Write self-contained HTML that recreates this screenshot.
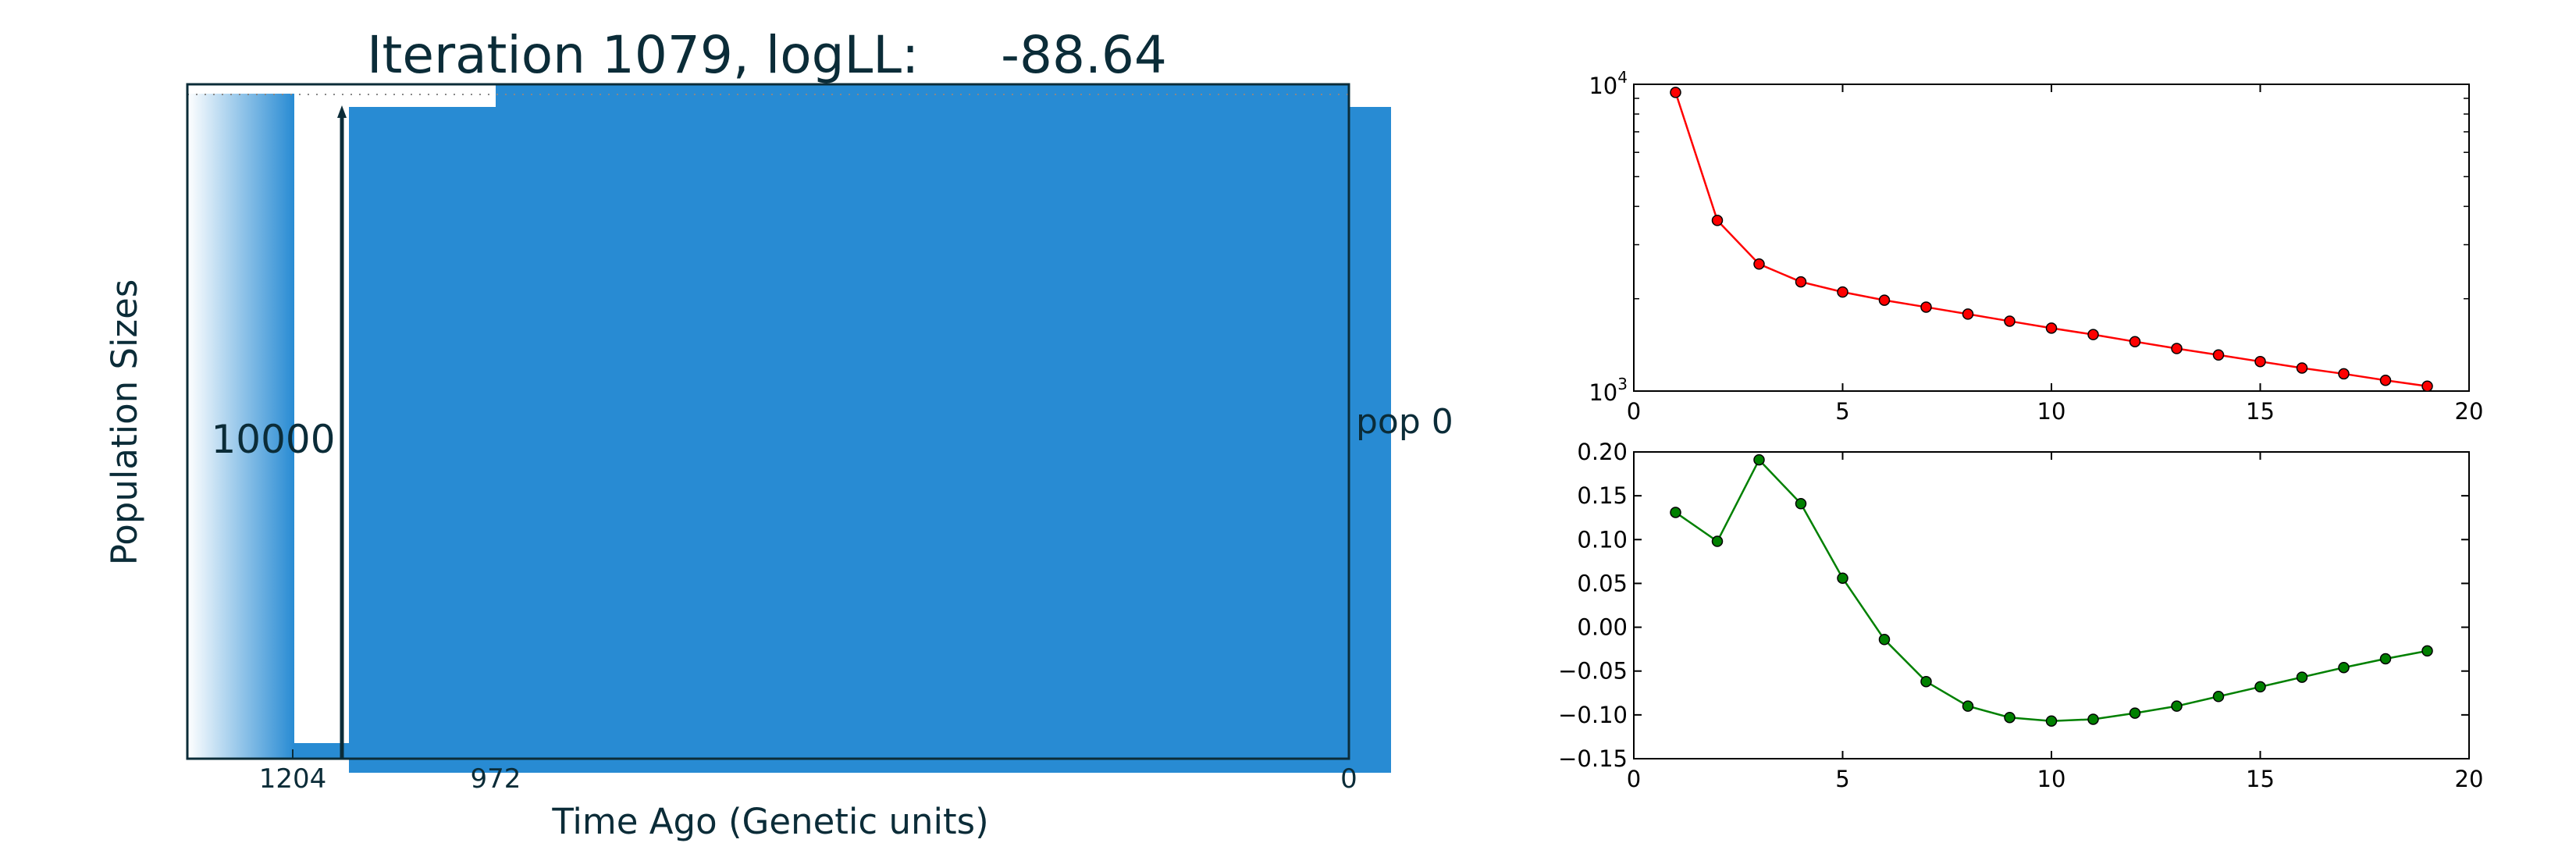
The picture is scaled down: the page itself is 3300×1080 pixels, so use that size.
<!DOCTYPE html>
<html><head><meta charset="utf-8"><style>
html,body{margin:0;padding:0;background:#fff;}
svg{display:block;font-family:"DejaVu Sans","Liberation Sans",sans-serif;}
</style></head><body>
<svg id="fig" width="3300" height="1080" viewBox="0 0 3300 1080" xmlns="http://www.w3.org/2000/svg">
<defs>
<linearGradient id="grad" x1="0" x2="1" y1="0" y2="0">
<stop offset="0" stop-color="#ffffff"/><stop offset="1" stop-color="#288bd3"/>
</linearGradient>
</defs>
<g>
<rect x="240" y="120" width="137" height="852" fill="url(#grad)"/>
<rect x="377" y="952" width="70" height="20" fill="#288bd3"/>
<rect x="447" y="137" width="1335" height="853" fill="#288bd3"/>
<rect x="635" y="108" width="1093" height="30" fill="#288bd3"/>
<line x1="240" y1="121" x2="1728" y2="121" stroke="#888" stroke-width="2" stroke-dasharray="2,9"/>
<line x1="438" y1="972" x2="438" y2="146" stroke="#0b2c38" stroke-width="5"/>
<polygon points="438,135 432,151 444,151" fill="#0b2c38"/>
<rect x="240" y="108" width="1488" height="864" fill="none" stroke="#0b2c38" stroke-width="3"/>
<line x1="375" y1="972" x2="375" y2="960" stroke="#0b2c38" stroke-width="2"/>
<text x="350" y="580" font-size="50" text-anchor="middle" fill="#0b2c38">10000</text>
<text x="1737" y="555" font-size="44" fill="#0b2c38">pop 0</text>
<text x="470" y="93" font-size="66" fill="#0b2c38">Iteration 1079, logLL:&#160;&#160;&#160;&#160;&#160;-88.64</text>
<text x="375" y="1009" font-size="34" text-anchor="middle" fill="#0b2c38">1204</text>
<text x="635" y="1009" font-size="34" text-anchor="middle" fill="#0b2c38">972</text>
<text x="1728" y="1009" font-size="34" text-anchor="middle" fill="#0b2c38">0</text>
<text x="987" y="1068" font-size="45" text-anchor="middle" fill="#0b2c38">Time Ago (Genetic units)</text>
<text x="0" y="0" font-size="45" text-anchor="middle" fill="#0b2c38" transform="translate(175,541) rotate(-90)">Population Sizes</text>
</g>
<g id="top"></g>
<g id="bot"></g>
</svg>
<script>
const xs = [1,2,3,4,5,6,7,8,9,10,11,12,13,14,15,16,17,18,19];
const sizes = [9410,3600,2594,2270,2103,1978,1878,1782,1690,1604,1528,1449,1376,1311,1248,1189,1138,1084,1037];
const growth = [0.131,0.098,0.191,0.141,0.056,-0.014,-0.062,-0.090,-0.103,-0.107,-0.105,-0.098,-0.090,-0.079,-0.068,-0.057,-0.046,-0.036,-0.027];
const xTicks = [0,5,10,15,20];
const growthTicks = [0.20,0.15,0.10,0.05,0.00,-0.05,-0.10,-0.15];
const NS="http://www.w3.org/2000/svg";
const L=2093,R=3163;
function X(v){return L+(v-0)/(20-0)*(R-L);}
function mk(tag,attrs,parent){const e=document.createElementNS(NS,tag);for(const k in attrs)e.setAttribute(k,attrs[k]);parent.appendChild(e);return e;}
function axes(g,T,B,name){
  const r=mk('rect',{x:L,y:T,width:R-L,height:B-T,fill:'none',stroke:'#000','stroke-width':2},g);
  
  
  xTicks.forEach(t=>{
    mk('line',{x1:X(t),x2:X(t),y1:B,y2:B-10,stroke:'#000','stroke-width':2},g);
    mk('line',{x1:X(t),x2:X(t),y1:T,y2:T+10,stroke:'#000','stroke-width':2},g);
    const tx=mk('text',{x:X(t),y:B+36,'font-size':29,'text-anchor':'middle',fill:'#000'},g);
    tx.textContent=t;
    
    
  });
}
function series(g,pts,color,name){
  const pl=mk('polyline',{points:pts.map(p=>p.join(',')).join(' '),fill:'none',stroke:color,'stroke-width':2.5},g);
  
  
  pts.forEach(p=>{
    const c=mk('circle',{cx:p[0],cy:p[1],r:6.5,fill:color,stroke:'#000','stroke-width':1.5},g);
    
    
  });
}
(function(){
  const g=document.getElementById('top');const T=108,B=501;
  const Y=v=>B-(Math.log10(v)-3)/(1)*(B-T);
  axes(g,T,B,'size');
  for(let m=2;m<=9;m++){const y=Y(m*1000);
    mk('line',{x1:L,x2:L+7,y1:y,y2:y,stroke:'#000','stroke-width':1.5},g);
    mk('line',{x1:R,x2:R-7,y1:y,y2:y,stroke:'#000','stroke-width':1.5},g);}
  [[3,B],[4,T]].forEach(([e,y])=>{
    const t=mk('text',{x:L-8,y:y+12,'font-size':29,'text-anchor':'end',fill:'#000'},g);
    t.textContent='10';
    
    
    const s=mk('tspan',{dy:-14,'font-size':20},t);s.textContent=e;
  });
  series(g,xs.map((x,i)=>[X(x),Y(sizes[i])]),'#ff0000','size');
})();
(function(){
  const g=document.getElementById('bot');const T=579,B=972;
  const Y=v=>B-(v+0.15)/(0.35)*(B-T);
  axes(g,T,B,'growth');
  growthTicks.forEach(v=>{const y=Y(v);
    mk('line',{x1:L,x2:L+10,y1:y,y2:y,stroke:'#000','stroke-width':2},g);
    mk('line',{x1:R,x2:R-10,y1:y,y2:y,stroke:'#000','stroke-width':2},g);
    const t=mk('text',{x:L-8,y:y+10,'font-size':29,'text-anchor':'end',fill:'#000'},g);
    t.textContent=(v<0?'\u2212':'')+Math.abs(v).toFixed(2);
    
    
  });
  series(g,xs.map((x,i)=>[X(x),Y(growth[i])]),'#008000','growth');
})();
</script>
</body></html>
